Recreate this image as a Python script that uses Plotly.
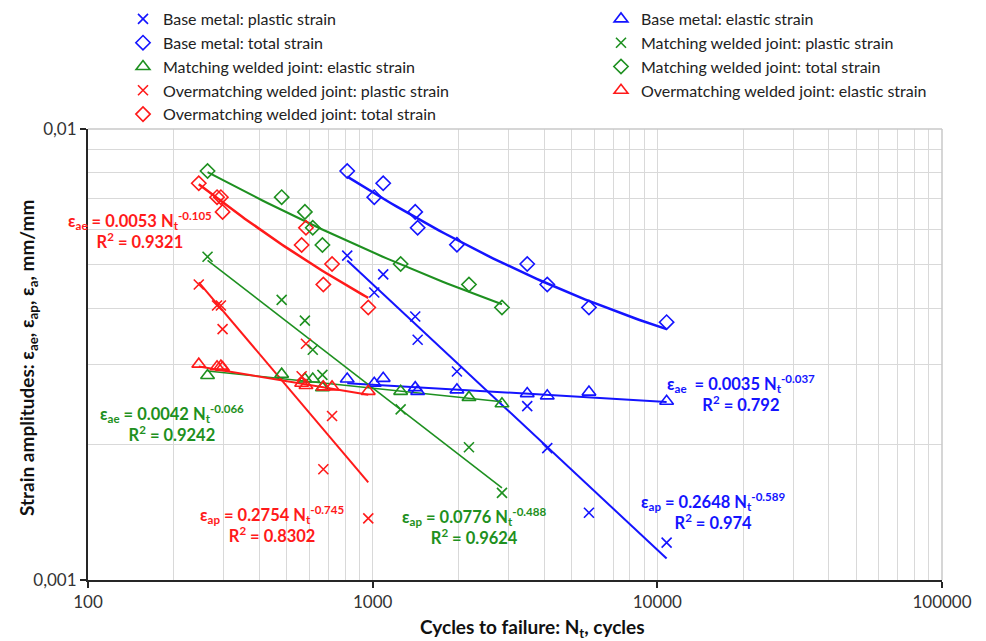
import numpy as np
import plotly.graph_objects as go

# ---- Base metal ----
base_N = [814, 1013, 1089, 1411, 1439, 1977, 3491, 4105, 5752, 10780]
base_total = [0.00807, 0.00706, 0.00758, 0.00655, 0.00604, 0.00554, 0.00502, 0.00452, 0.00402, 0.00373]
base_elastic = [0.00279, 0.00273, 0.00280, 0.00267, 0.00262, 0.00264, 0.00259, 0.00256, 0.00261, 0.00249]
base_plastic = [0.00524, 0.00434, 0.00476, 0.00384, 0.00341, 0.00290, 0.00243, 0.00196, 0.00141, 0.00121]

# ---- Matching welded joint ----
match_N = [263, 479, 578, 616, 666, 1254, 2179, 2846]
match_total = [0.00807, 0.00706, 0.00655, 0.00604, 0.00553, 0.00502, 0.00452, 0.00402]
match_elastic = [0.00284, 0.00286, 0.00279, 0.00279, 0.00267, 0.00262, 0.00254, 0.00246]
match_plastic = [0.00521, 0.00418, 0.00376, 0.00324, 0.00285, 0.00239, 0.00197, 0.00156]

# ---- Overmatching welded joint ----
over_N = [245, 284, 293, 297, 583, 563, 720, 671, 965]
over_total = [0.00758, 0.00706, 0.00706, 0.00655, 0.00604, 0.00553, 0.00502, 0.00452, 0.00402]
over_elastic = [0.00301, 0.00297, 0.00298, 0.00296, 0.00270, 0.00273, 0.00268, 0.00268, 0.00262]
over_plastic = [0.00452, 0.00406, 0.00406, 0.00360, 0.00334, 0.00283, 0.00231, 0.00176, 0.00137]

# Power-law fit coefficients: eps = A * N^b, with R^2
base_fit = {"ae": (0.0035, -0.037, 0.792), "ap": (0.2648, -0.589, 0.974)}
match_fit = {"ae": (0.0042, -0.066, 0.9242), "ap": (0.0776, -0.488, 0.9624)}
over_fit = {"ae": (0.0053, -0.105, 0.9321), "ap": (0.2754, -0.745, 0.8302)}

BLUE = "#1414ff"
GREEN = "#1e9020"
RED = "#ff1a1a"

FONT = "Lato"

fig = go.Figure()


def add_markers(x, y, name, color, symbol, size, legend):
    fig.add_trace(go.Scatter(
        x=x, y=y, mode="markers", name=name, legend=legend,
        marker=dict(symbol=symbol, size=size, color=color,
                    line=dict(color=color, width=1.6)),
    ))


def add_fit(Nvals, fit, color, width):
    N = np.geomspace(min(Nvals), max(Nvals), 60)
    A_e, b_e, _ = fit["ae"]
    A_p, b_p, _ = fit["ap"]
    el = A_e * N ** b_e
    pl = A_p * N ** b_p
    for y, w in ((el, width), (pl, width), (el + pl, width + 0.5)):
        fig.add_trace(go.Scatter(x=N, y=y, mode="lines", showlegend=False,
                                 hoverinfo="skip", line=dict(color=color, width=w)))


# fitted curves (drawn below markers)
add_fit(base_N, base_fit, BLUE, 2)
add_fit(match_N, match_fit, GREEN, 1.6)
add_fit(over_N, over_fit, RED, 2)

# left legend column
add_markers(base_N, base_plastic, "Base metal: plastic strain", BLUE, "x-thin-open", 10, "legend")
add_markers(base_N, base_total, "Base metal: total strain", BLUE, "diamond-open", 11, "legend")
add_markers(match_N, match_elastic, "Matching welded joint: elastic strain", GREEN, "triangle-up-open", 12, "legend")
add_markers(over_N, over_plastic, "Overmatching welded joint: plastic strain", RED, "x-thin-open", 10, "legend")
add_markers(over_N, over_total, "Overmatching welded joint: total strain", RED, "diamond-open", 11, "legend")
# right legend column
add_markers(base_N, base_elastic, "Base metal: elastic strain", BLUE, "triangle-up-open", 12, "legend2")
add_markers(match_N, match_plastic, "Matching welded joint: plastic strain", GREEN, "x-thin-open", 10, "legend2")
add_markers(match_N, match_total, "Matching welded joint: total strain", GREEN, "diamond-open", 11, "legend2")
add_markers(over_N, over_elastic, "Overmatching welded joint: elastic strain", RED, "triangle-up-open", 12, "legend2")


def eq_text(kind, fit, gap=" "):
    A, b, r2 = fit[kind]
    return (f"ε<sub>{kind}</sub>{gap}= {A:.4f} N<sub>t</sub><sup>{b}</sup><br>"
            f"R<sup>2</sup> = {r2}")


# equation labels: (text, x-center px, y-center px, color)
eq_labels = [
    (eq_text("ae", over_fit), 140, 230, RED),
    (eq_text("ae", match_fit), 172, 423, GREEN),
    (eq_text("ap", over_fit), 272, 524, RED),
    (eq_text("ap", match_fit), 474, 526, GREEN),
    (eq_text("ae", base_fit, "  "), 741, 393, BLUE),
    (eq_text("ap", base_fit), 713, 511, BLUE),
]
for txt, xp, yp, col in eq_labels:
    fig.add_annotation(text=f"<b>{txt}</b>", xref="paper", yref="paper",
                       x=(xp - 88) / 854, y=(580 - yp) / 451,
                       xanchor="center", yanchor="middle",
                       showarrow=False, align="center",
                       font=dict(family=FONT, size=16.5, color=col))

# axis titles
fig.add_annotation(text="<b>Strain amplitudes: ε<sub>ae</sub>, ε<sub>ap</sub>, ε<sub>a</sub>, mm/mm</b>",
                   xref="paper", yref="paper", x=(28 - 88) / 854, y=(580 - 358) / 451,
                   xanchor="center", yanchor="middle",
                   textangle=-90, showarrow=False,
                   font=dict(family=FONT, size=19, color="#111111"))
fig.add_annotation(text="<b>Cycles to failure: N<sub>t</sub>, cycles</b>",
                   xref="paper", yref="paper", x=(532 - 88) / 854, y=-(628 - 580) / 451,
                   xanchor="center", yanchor="middle",
                   showarrow=False, font=dict(family=FONT, size=19, color="#111111"))

x_major = [100, 1000, 10000, 100000]
x_minor = [m * d for d in (100, 1000, 10000) for m in range(2, 10)]
y_major = [0.001, 0.01]
y_labels = ["0,001", "0,01"]
y_minor = [m * 0.001 for m in range(2, 10)]

GRID = "#d9d9d9"
fig.update_xaxes(type="log", range=[2, 5], tickvals=x_major,
                 ticktext=[str(v) for v in x_major],
                 showgrid=True, gridcolor=GRID, gridwidth=1.2,
                 minor=dict(tickvals=x_minor, showgrid=True, gridcolor=GRID, gridwidth=1.2, ticks=""),
                 showline=True, linecolor="#262626", linewidth=2,
                 ticks="outside", ticklen=6, tickcolor="#262626", tickwidth=2,
                 tickfont=dict(family=FONT, size=17, color="#333333"),
                 zeroline=False, mirror=False)
fig.update_yaxes(type="log", range=[-3, -2], tickvals=y_major, ticktext=y_labels,
                 showgrid=True, gridcolor=GRID, gridwidth=1.2,
                 minor=dict(tickvals=y_minor, showgrid=True, gridcolor=GRID, gridwidth=1.2, ticks=""),
                 showline=True, linecolor="#262626", linewidth=2,
                 ticks="outside", ticklen=6, tickcolor="#262626", tickwidth=2,
                 tickfont=dict(family=FONT, size=17, color="#333333"),
                 zeroline=False)

# light frame on top and right edges
fig.add_shape(type="line", xref="paper", yref="paper", x0=0, x1=1, y0=1, y1=1,
              line=dict(color="#c8c8c8", width=1.5))
fig.add_shape(type="line", xref="paper", yref="paper", x0=1, x1=1, y0=0, y1=1,
              line=dict(color="#c8c8c8", width=1.5))

legend_common = dict(orientation="v", xref="container", yref="container",
                     xanchor="left", yanchor="top",
                     font=dict(family=FONT, size=16, color="#222222"),
                     bgcolor="rgba(0,0,0,0)", tracegroupgap=0)

fig.update_layout(
    width=986, height=641,
    margin=dict(l=88, r=44, t=129, b=61, autoexpand=False),
    paper_bgcolor="white", plot_bgcolor="white",
    font=dict(family=FONT, color="#222222"),
    legend=dict(x=123 / 986, y=1 - 2 / 641, **legend_common),
    legend2=dict(x=601 / 986, y=1 - 2 / 641, **legend_common),
    hovermode="closest",
)

fig.write_html("out.html")
